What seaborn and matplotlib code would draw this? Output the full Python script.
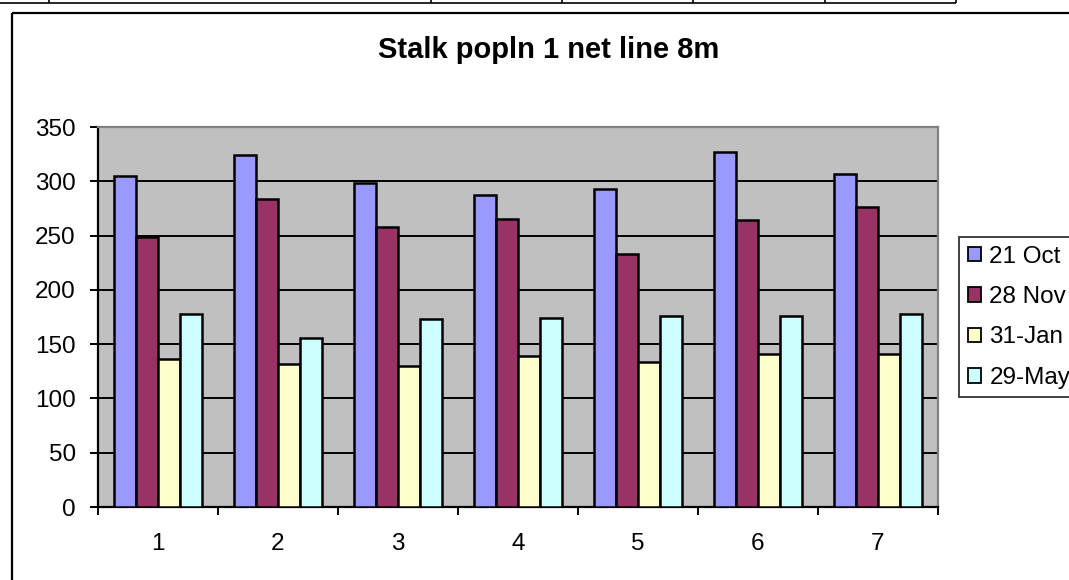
import numpy as np
import pandas as pd
import matplotlib
matplotlib.use("Agg")
import matplotlib.pyplot as plt
from matplotlib.lines import Line2D
from matplotlib.patches import Patch
import seaborn as sns

# ---- data ----
categories = ["1", "2", "3", "4", "5", "6", "7"]
series_names = ["21 Oct", "28 Nov", "31-Jan", "29-May"]
oct21 = [305, 324, 298, 287, 293, 327, 307]
nov28 = [249, 284, 258, 265, 233, 264, 276]
jan31 = [136, 132, 130, 139, 134, 141, 141]
may29 = [178, 156, 173, 174, 176, 176, 178]
y_ticks = [0, 50, 100, 150, 200, 250, 300, 350]
title = "Stalk popln 1 net line 8m"
colors = ["#9999FF", "#993366", "#FFFFCC", "#CCFFFF"]

rows = []
for name, vals in zip(series_names, [oct21, nov28, jan31, may29]):
    for c, v in zip(categories, vals):
        rows.append({"cat": c, "val": v, "series": name})
df = pd.DataFrame(rows)

sns.set_style("white")
plt.rcParams["font.family"] = ["Liberation Sans", "DejaVu Sans"]
plt.rcParams["text.color"] = "black"
plt.rcParams["xtick.color"] = "black"
plt.rcParams["ytick.color"] = "black"

W, H = 1069, 580
fig = plt.figure(figsize=(W / 100, H / 100), dpi=100)
fig.patch.set_facecolor("white")

# plot area in pixels: left 98, right 938, top 127, bottom 507
ax = fig.add_axes([98 / W, 1 - 507 / H, 840 / W, 380 / H])
ax.set_facecolor("#C0C0C0")
ax.set_axisbelow(True)

sns.barplot(data=df, x="cat", y="val", hue="series", order=categories,
            hue_order=series_names, palette=colors, width=0.733,
            edgecolor="black", linewidth=1.8, saturation=1, ax=ax,
            legend=False, zorder=3)

ax.set_ylim(0, 350)
ax.set_xlim(-0.5, len(categories) - 0.5)
ax.set_yticks(y_ticks)
ax.set_yticklabels([str(t) for t in y_ticks])
for t in y_ticks[1:-1]:
    ax.axhline(t, color="black", linewidth=1.4, zorder=1)

ax.set_xticks(range(len(categories)))
ax.set_xticklabels(categories)
ax.set_xticks(np.arange(-0.5, len(categories), 1.0), minor=True)
ax.tick_params(axis="x", which="major", length=0, pad=19, labelsize=17.5,
               labelcolor="black")
ax.tick_params(axis="x", which="minor", length=6, width=1.4, direction="out",
               color="black", bottom=True)
ax.tick_params(axis="y", which="major", length=6, width=1.4, direction="out",
               color="black", left=True, pad=10, labelsize=17.5,
               labelcolor="black")
ax.set_xlabel("")
ax.set_ylabel("")

for side in ["left", "bottom"]:
    ax.spines[side].set_color("black")
    ax.spines[side].set_linewidth(1.6)
for side in ["top", "right"]:
    ax.spines[side].set_color("#808080")
    ax.spines[side].set_linewidth(1.6)
    ax.spines[side].set_visible(True)

# title
fig.text(549 / W, 1 - 50 / H, title, ha="center", va="center",
         fontsize=21, fontweight="bold", color="black")

# legend (partly cut by the right edge, as in the reference)
handles = [Patch(facecolor=c, edgecolor="black", linewidth=1.3) for c in colors]
leg = fig.legend(handles, series_names, loc="upper left",
                 bbox_to_anchor=(959 / W, 1 - 237 / H), frameon=True,
                 fontsize=17.5, handlelength=0.55, handleheight=0.55,
                 handletextpad=0.35, labelspacing=0.76, borderpad=0.35,
                 borderaxespad=0, fancybox=False)
leg.get_frame().set_edgecolor("black")
leg.get_frame().set_linewidth(1.3)
for t in leg.get_texts():
    t.set_color("black")

# outer chart frame and spreadsheet lines above
def px_line(x0, y0, x1, y1, lw):
    fig.add_artist(Line2D([x0 / W, x1 / W], [1 - y0 / H, 1 - y1 / H],
                          transform=fig.transFigure, color="black",
                          linewidth=lw, solid_capstyle="butt"))

px_line(12, 13, W + 5, 13, 1.6)
px_line(12, 13, 12, H + 5, 1.6)
px_line(0, 2.5, 956, 2.5, 1.2)
for xv in [49, 431, 562, 693, 825, 956]:
    px_line(xv, -2, xv, 3, 1.2)

fig.savefig("out.png", dpi=100)
